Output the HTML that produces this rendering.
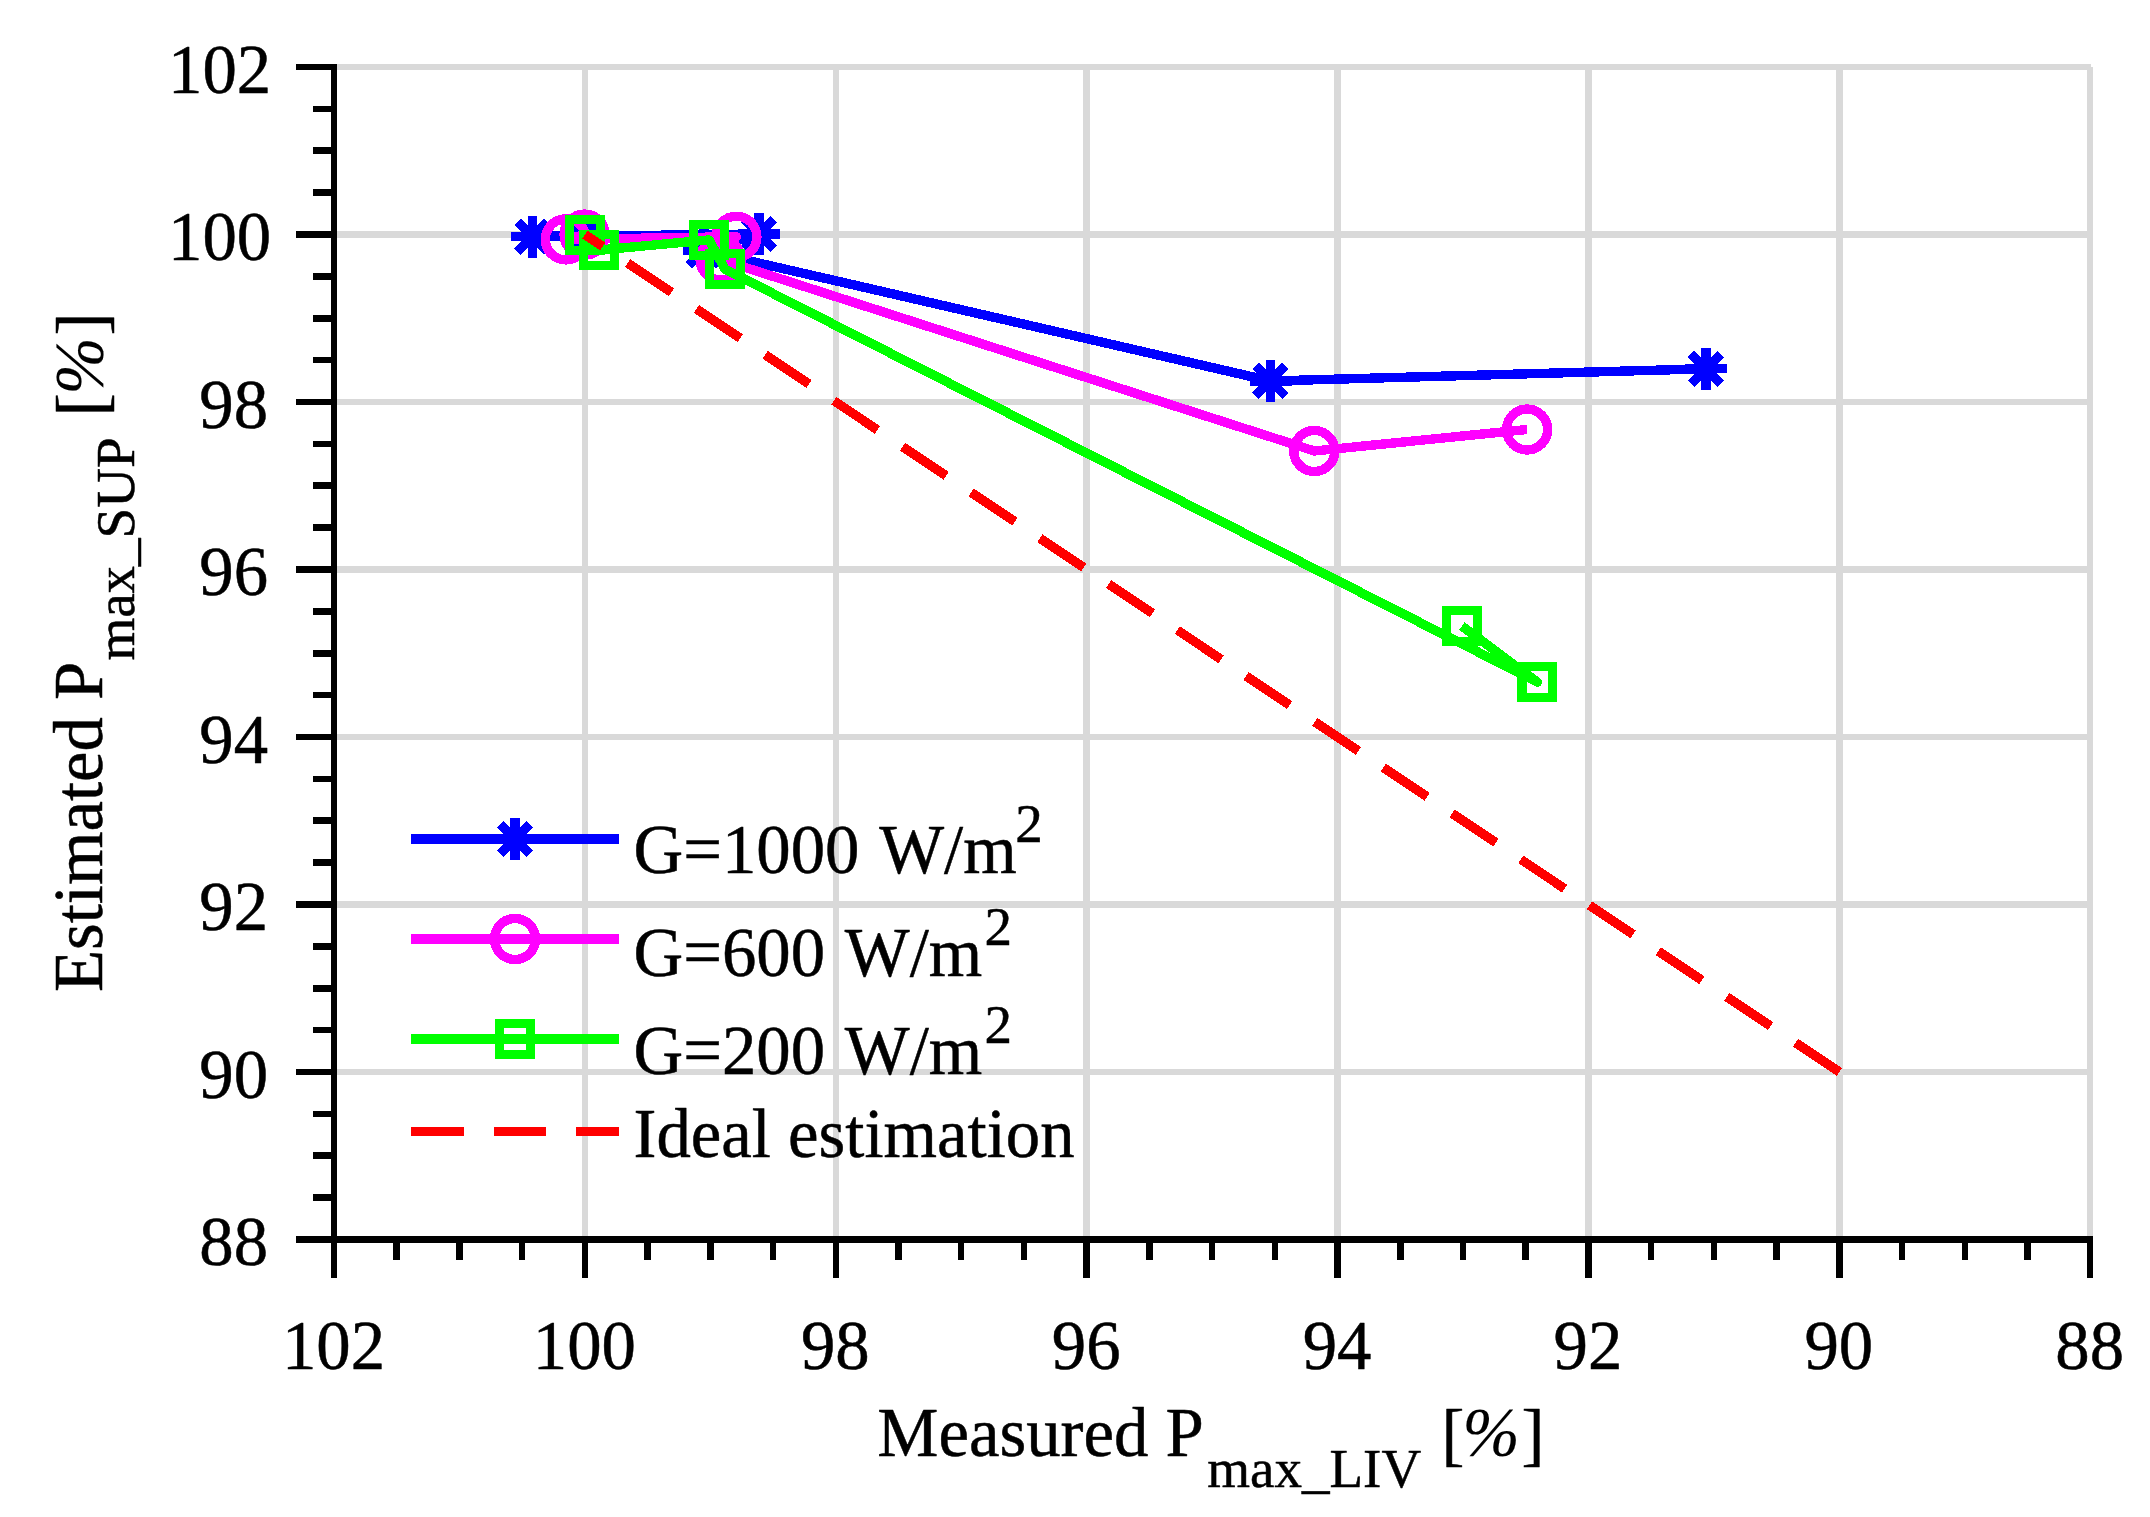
<!DOCTYPE html>
<html lang="en"><head><meta charset="utf-8"><title>Estimated vs Measured Pmax</title>
<style>
html,body{margin:0;padding:0;background:#fff;}
body{width:2150px;height:1517px;overflow:hidden;}
svg{display:block;}
text{font-family:"Liberation Serif",serif;fill:#000;stroke:#000;stroke-width:0.5px;stroke-linejoin:round;}
.t{font-size:68.75px;}
.s{font-size:55px;}
.i{font-style:italic;stroke-width:0.15px;}
</style></head><body>
<svg width="2150" height="1517" viewBox="0 0 2150 1517">
<rect x="0" y="0" width="2150" height="1517" fill="#fff"/>
<g fill="#d9d9d9" shape-rendering="crispEdges">
<rect x="582" y="67" width="6" height="1172"/>
<rect x="833" y="67" width="6" height="1172"/>
<rect x="1083" y="67" width="7" height="1172"/>
<rect x="1334" y="67" width="7" height="1172"/>
<rect x="1585" y="67" width="7" height="1172"/>
<rect x="1836" y="67" width="7" height="1172"/>
<rect x="2087" y="67" width="6" height="1172"/>
<rect x="337" y="64" width="1754" height="6"/>
<rect x="337" y="231" width="1754" height="7"/>
<rect x="337" y="399" width="1754" height="6"/>
<rect x="337" y="566" width="1754" height="7"/>
<rect x="337" y="734" width="1754" height="6"/>
<rect x="337" y="901" width="1754" height="7"/>
<rect x="337" y="1069" width="1754" height="6"/>
</g>
<g fill="#000" shape-rendering="crispEdges">
<rect x="331" y="64" width="6" height="1214"/>
<rect x="296" y="1236" width="1797" height="7"/>
<rect x="296" y="64" width="38" height="6"/>
<rect x="313" y="106" width="21" height="6"/>
<rect x="313" y="147" width="21" height="7"/>
<rect x="313" y="189" width="21" height="7"/>
<rect x="296" y="231" width="38" height="7"/>
<rect x="313" y="273" width="21" height="7"/>
<rect x="313" y="315" width="21" height="7"/>
<rect x="313" y="357" width="21" height="6"/>
<rect x="296" y="399" width="38" height="6"/>
<rect x="313" y="441" width="21" height="6"/>
<rect x="313" y="482" width="21" height="7"/>
<rect x="313" y="524" width="21" height="7"/>
<rect x="296" y="566" width="38" height="7"/>
<rect x="313" y="608" width="21" height="7"/>
<rect x="313" y="650" width="21" height="7"/>
<rect x="313" y="692" width="21" height="6"/>
<rect x="296" y="734" width="38" height="6"/>
<rect x="313" y="776" width="21" height="6"/>
<rect x="313" y="817" width="21" height="7"/>
<rect x="313" y="859" width="21" height="7"/>
<rect x="296" y="901" width="38" height="7"/>
<rect x="313" y="943" width="21" height="7"/>
<rect x="313" y="985" width="21" height="7"/>
<rect x="313" y="1027" width="21" height="6"/>
<rect x="296" y="1069" width="38" height="6"/>
<rect x="313" y="1111" width="21" height="6"/>
<rect x="313" y="1152" width="21" height="7"/>
<rect x="313" y="1194" width="21" height="7"/>
<rect x="296" y="1236" width="38" height="7"/>
<rect x="331" y="1239" width="6" height="39"/>
<rect x="393" y="1239" width="7" height="21"/>
<rect x="456" y="1239" width="7" height="21"/>
<rect x="519" y="1239" width="6" height="21"/>
<rect x="582" y="1239" width="6" height="39"/>
<rect x="644" y="1239" width="7" height="21"/>
<rect x="707" y="1239" width="7" height="21"/>
<rect x="770" y="1239" width="6" height="21"/>
<rect x="833" y="1239" width="6" height="39"/>
<rect x="895" y="1239" width="7" height="21"/>
<rect x="958" y="1239" width="6" height="21"/>
<rect x="1021" y="1239" width="6" height="21"/>
<rect x="1083" y="1239" width="7" height="39"/>
<rect x="1146" y="1239" width="7" height="21"/>
<rect x="1209" y="1239" width="6" height="21"/>
<rect x="1272" y="1239" width="6" height="21"/>
<rect x="1334" y="1239" width="7" height="39"/>
<rect x="1397" y="1239" width="7" height="21"/>
<rect x="1460" y="1239" width="6" height="21"/>
<rect x="1522" y="1239" width="7" height="21"/>
<rect x="1585" y="1239" width="7" height="39"/>
<rect x="1648" y="1239" width="6" height="21"/>
<rect x="1711" y="1239" width="6" height="21"/>
<rect x="1773" y="1239" width="7" height="21"/>
<rect x="1836" y="1239" width="7" height="39"/>
<rect x="1899" y="1239" width="6" height="21"/>
<rect x="1962" y="1239" width="6" height="21"/>
<rect x="2024" y="1239" width="7" height="21"/>
<rect x="2087" y="1239" width="6" height="39"/>
</g>
<g shape-rendering="crispEdges">
<polyline points="585,234.6 532.4,236.8 759,234 704,250.4 1270.5,381 1705.9,368.8" stroke="#0000ff" stroke-width="9.4" fill="none" stroke-linejoin="round" stroke-linecap="butt"/>
<path d="M564 234.6H606M585 213.6V255.6M570.15 219.75L599.85 249.45M570.15 249.45L599.85 219.75" stroke="#0000ff" stroke-width="9.2" fill="none"/>
<path d="M511.4 236.8H553.4M532.4 215.8V257.8M517.55 221.95L547.25 251.65M517.55 251.65L547.25 221.95" stroke="#0000ff" stroke-width="9.2" fill="none"/>
<path d="M738 234H780M759 213V255M744.15 219.15L773.85 248.85M744.15 248.85L773.85 219.15" stroke="#0000ff" stroke-width="9.2" fill="none"/>
<path d="M683 250.4H725M704 229.4V271.4M689.15 235.55L718.85 265.25M689.15 265.25L718.85 235.55" stroke="#0000ff" stroke-width="9.2" fill="none"/>
<path d="M1249.5 381H1291.5M1270.5 360V402M1255.65 366.15L1285.35 395.85M1255.65 395.85L1285.35 366.15" stroke="#0000ff" stroke-width="9.2" fill="none"/>
<path d="M1684.9 368.8H1726.9M1705.9 347.8V389.8M1691.05 353.95L1720.75 383.65M1691.05 383.65L1720.75 353.95" stroke="#0000ff" stroke-width="9.2" fill="none"/>
<polyline points="584.6,234.6 565.8,239.4 736.4,236.7 720.6,259.5 1314.3,451 1527.1,429.5" stroke="#ff00ff" stroke-width="9.4" fill="none" stroke-linejoin="round" stroke-linecap="butt"/>
<circle cx="584.6" cy="234.6" r="20.5" stroke="#ff00ff" stroke-width="9.4" fill="none"/>
<circle cx="565.8" cy="239.4" r="20.5" stroke="#ff00ff" stroke-width="9.4" fill="none"/>
<circle cx="736.4" cy="236.7" r="20.5" stroke="#ff00ff" stroke-width="9.4" fill="none"/>
<circle cx="720.6" cy="259.5" r="20.5" stroke="#ff00ff" stroke-width="9.4" fill="none"/>
<circle cx="1314.3" cy="451" r="20.5" stroke="#ff00ff" stroke-width="9.4" fill="none"/>
<circle cx="1527.1" cy="429.5" r="20.5" stroke="#ff00ff" stroke-width="9.4" fill="none"/>
<polyline points="585,234.9 599,250.1 709,239.9 725,269.1 1537.4,682.2 1461.9,626" stroke="#00ff00" stroke-width="9.4" fill="none" stroke-linejoin="round" stroke-linecap="butt"/>
<rect x="569.6" y="219.5" width="30.8" height="30.8" stroke="#00ff00" stroke-width="9.2" fill="none"/>
<rect x="583.6" y="234.7" width="30.8" height="30.8" stroke="#00ff00" stroke-width="9.2" fill="none"/>
<rect x="693.6" y="224.5" width="30.8" height="30.8" stroke="#00ff00" stroke-width="9.2" fill="none"/>
<rect x="709.6" y="253.7" width="30.8" height="30.8" stroke="#00ff00" stroke-width="9.2" fill="none"/>
<rect x="1522" y="666.8" width="30.8" height="30.8" stroke="#00ff00" stroke-width="9.2" fill="none"/>
<rect x="1446.5" y="610.6" width="30.8" height="30.8" stroke="#00ff00" stroke-width="9.2" fill="none"/>
<line x1="1839.31" y1="1072" x2="584.89" y2="234.5" stroke="#ff0000" stroke-width="9.4" stroke-dasharray="52.6 30"/>
<line x1="411" y1="839" x2="619" y2="839" stroke="#0000ff" stroke-width="10"/>
<path d="M494 839H536M515 818V860M500.15 824.15L529.85 853.85M500.15 853.85L529.85 824.15" stroke="#0000ff" stroke-width="9.2" fill="none"/>
<line x1="411" y1="939" x2="619" y2="939" stroke="#ff00ff" stroke-width="10"/>
<circle cx="515" cy="939" r="20.5" stroke="#ff00ff" stroke-width="9.4" fill="none"/>
<line x1="411" y1="1039" x2="619" y2="1039" stroke="#00ff00" stroke-width="10"/>
<rect x="499.6" y="1023.6" width="30.8" height="30.8" stroke="#00ff00" stroke-width="9.2" fill="none"/>
<line x1="411" y1="1131.5" x2="619" y2="1131.5" stroke="#ff0000" stroke-width="9.4" stroke-dasharray="53 30 52 30 60 30"/>
</g>
<g class="t">
<text x="271.2" y="92.8" text-anchor="end">102</text>
<text x="271.2" y="260.3" text-anchor="end">100</text>
<text x="268" y="427.8" text-anchor="end">98</text>
<text x="268" y="595.3" text-anchor="end">96</text>
<text x="268" y="762.8" text-anchor="end">94</text>
<text x="268" y="930.3" text-anchor="end">92</text>
<text x="268" y="1097.8" text-anchor="end">90</text>
<text x="268" y="1265.3" text-anchor="end">88</text>
<text x="333.5" y="1369" text-anchor="middle">102</text>
<text x="584.39" y="1369" text-anchor="middle">100</text>
<text x="835.27" y="1369" text-anchor="middle">98</text>
<text x="1086.16" y="1369" text-anchor="middle">96</text>
<text x="1337.04" y="1369" text-anchor="middle">94</text>
<text x="1587.93" y="1369" text-anchor="middle">92</text>
<text x="1838.81" y="1369" text-anchor="middle">90</text>
<text x="2089.7" y="1369" text-anchor="middle">88</text>
<text y="872.8"><tspan x="633.5">G=1000</tspan><tspan x="879.2">W/m</tspan></text><text class="s" x="1015.3" y="841.5">2</text>
<text y="975.9"><tspan x="633.5">G=600</tspan><tspan x="844.8">W/m</tspan></text><text class="s" x="984.4" y="944.6">2</text>
<text y="1074.3"><tspan x="633.5">G=200</tspan><tspan x="844.8">W/m</tspan></text><text class="s" x="984.4" y="1043">2</text>
<text x="633.5" y="1157">Ideal estimation</text>
<text x="877.3" y="1455.6">Measured P</text><text class="s" x="1207.3" y="1487.1">max_LIV</text>
<text x="1441.4" y="1458.2">[</text><text class="i" x="1462.6" y="1456.2">%</text><text x="1521.5" y="1458.2">]</text>
<g transform="translate(102 992) rotate(-90)">
<text x="0" y="0">Estimated P</text><text class="s" x="331.4" y="32.4">max_SUP</text>
<text x="575.8" y="2.6">[</text><text class="i" x="597.6" y="0.6">%</text><text x="656.5" y="2.6">]</text>
</g>
</g>
</svg></body></html>
